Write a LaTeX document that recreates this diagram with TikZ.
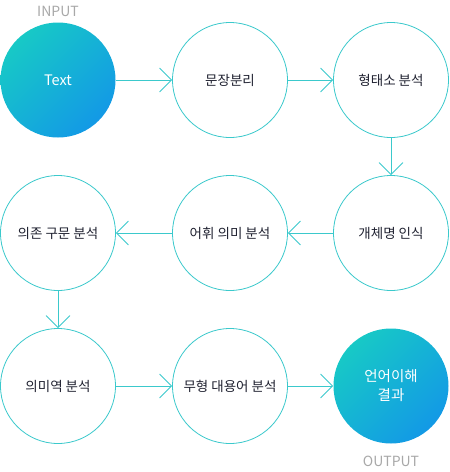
\documentclass[tikz,border=0pt]{standalone}
\usepackage{fontspec}
\setmainfont{Noto Sans CJK KR}
\usetikzlibrary{arrows.meta}
\definecolor{lineteal}{HTML}{3BC9CC}
\definecolor{gradA}{HTML}{17C9C6}
\definecolor{gradB}{HTML}{1399E6}
\definecolor{inktext}{HTML}{1F2130}
\definecolor{tagtext}{HTML}{A8A8A8}
\begin{document}
\begin{tikzpicture}[x = 1pt, y = -1pt, line width = 0.8pt,
                        stage/.style = {circle, draw = lineteal, fill = white, minimum size = 115pt,
                                        inner sep = 0pt, text = inktext, align = center,
                                        font = \fontsize{13.5}{18}\selectfont},
                        endpoint/.style = {stage, draw = none, text = white, top color = gradA,
                                           bottom color = gradB, shading angle = 45,
                                           font = \fontsize{14.5}{19}\selectfont},
                        tag/.style = {text = tagtext, font = \fontsize{14}{16}\selectfont},
                        flow/.style = {draw = lineteal, -{Straight Barb[length = 12pt, width = 24pt, line width = 0.8pt]}}]
    \useasboundingbox (0, 0) rectangle (450, 472);
    \node [endpoint] (text) at (58, 80){Text};
    \node [stage] (split) at (230, 80){문장분리};
    \node [stage] (morph) at (391, 80){형태소 분석};
    \node [stage] (ner) at (391, 233){개체명 인식};
    \node [stage] (lexsem) at (230, 233){어휘 의미 분석};
    \node [stage] (dep) at (58, 233){의존 구문 분석};
    \node [stage] (srl) at (58, 386){의미역 분석};
    \node [stage] (coref) at (230, 386){무형 대용어 분석};
    \node [endpoint] (result) at (391, 386){언어이해\\결과};
    \node [tag] (input) at (58, 11){INPUT};
    \node [tag] (output) at (391, 461){OUTPUT};
    \draw [flow] (text)--(split);
    \draw [flow] (split)--(morph);
    \draw [flow] (morph)--(ner);
    \draw [flow] (ner)--(lexsem);
    \draw [flow] (lexsem)--(dep);
    \draw [flow] (dep)--(srl);
    \draw [flow] (srl)--(coref);
    \draw [flow] (coref)--(result);
  \end{tikzpicture}
\end{document}
